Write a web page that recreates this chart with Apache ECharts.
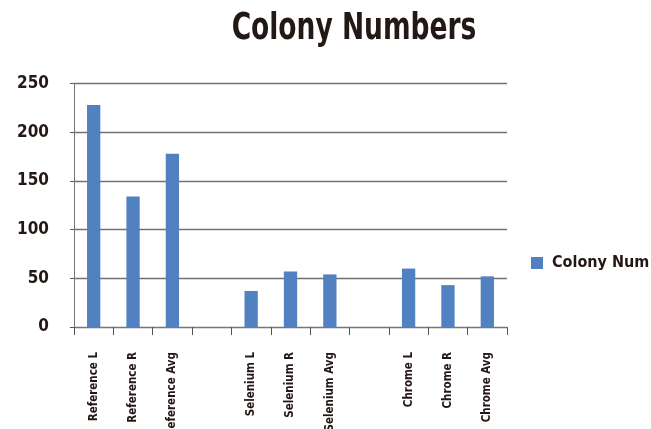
<!DOCTYPE html>
<html>
<head>
<meta charset="utf-8">
<script src="https://cdn.jsdelivr.net/npm/echarts@6/dist/echarts.min.js"></script>
<style>html,body{margin:0;padding:0;background:#fff}#c{width:651px;height:429px}</style>
</head>
<body>
<div id="c"></div>
<script>
const categories = ['Reference L','Reference R','Reference Avg','','Selenium L','Selenium R','Selenium Avg','','Chrome L','Chrome R','Chrome Avg'];
const colonyNum = [228, 134, 178, null, 37, 57, 54, null, 60, 43, 52];
const yTicks = [0, 50, 100, 150, 200, 250];
const titleText = 'Colony Numbers';

const FONT = "'DejaVu Sans Condensed', 'DejaVu Sans', sans-serif";
const chart = echarts.init(document.getElementById('c'), null, {renderer: 'canvas'});
chart.setOption({
  animation: false,
  backgroundColor: '#fff',
  graphic: [{
    type: 'text',
    x: 354, y: 10,
    scaleX: 0.775,
    style: {
      text: titleText,
      font: "bold 38px 'DejaVu Sans Condensed', 'DejaVu Sans', sans-serif",
      fill: '#231815',
      textAlign: 'center',
      textVerticalAlign: 'top'
    }
  }],
  legend: {
    left: 531, top: 255, padding: 0,
    itemWidth: 12, itemHeight: 12, itemGap: 10,
    icon: 'rect',
    textStyle: {fontFamily: FONT, fontSize: 16, fontWeight: 'bold', color: '#231815', padding: [0,0,0,4]},
    data: ['Colony Num']
  },
  grid: {left: 74, right: 144, top: 83.5, bottom: 102, containLabel: false, outerBoundsMode: 'none'},
  xAxis: {
    type: 'category',
    data: categories,
    boundaryGap: true,
    axisLine: {show: true, lineStyle: {color: '#777', width: 1}},
    axisTick: {show: true, length: 8, lineStyle: {color: '#555'}, alignWithLabel: false},
    axisLabel: {
      rotate: 90, interval: 0, margin: 25,
      fontFamily: FONT, fontSize: 11.5, fontWeight: 'bold', color: '#231815'
    }
  },
  yAxis: {
    type: 'value',
    min: yTicks[0], max: yTicks[yTicks.length - 1], interval: 50,
    axisLine: {show: true, lineStyle: {color: '#777', width: 1}},
    axisTick: {show: true, length: 4, lineStyle: {color: '#555'}},
    splitLine: {show: true, lineStyle: {color: '#707070', width: 1.3}},
    axisLabel: {
      margin: 25, fontFamily: FONT, fontSize: 17, fontWeight: 'bold', color: '#231815'
    }
  },
  series: [{
    name: 'Colony Num',
    type: 'bar',
    data: colonyNum,
    barWidth: 13.3,
    itemStyle: {color: '#5181C1'}
  }]
});
</script>
</body>
</html>
